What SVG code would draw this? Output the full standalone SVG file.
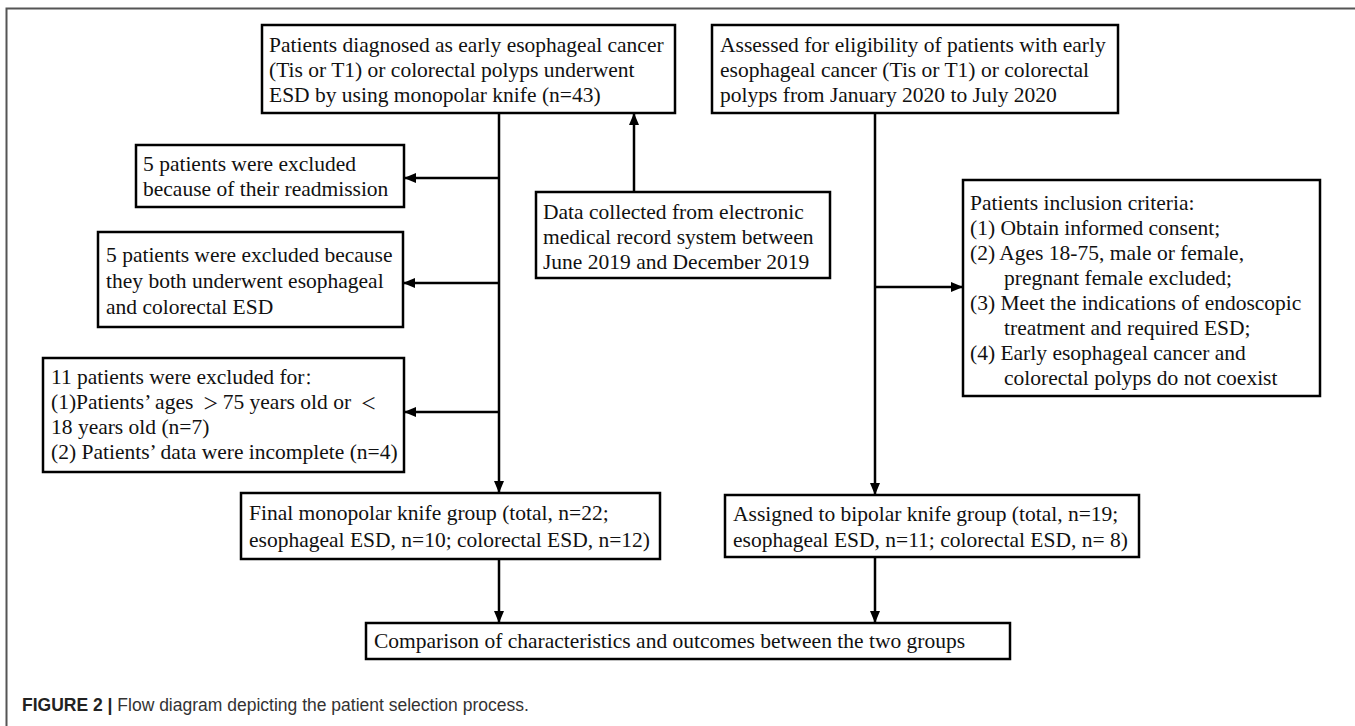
<svg xmlns="http://www.w3.org/2000/svg" width="1355" height="726" viewBox="0 0 1355 726">
<defs>
<marker id="ah" viewBox="0 0 12 10" refX="12" refY="5" markerWidth="12" markerHeight="10" markerUnits="userSpaceOnUse" orient="auto">
<path d="M0,0 L12,5 L0,10 Z" fill="#000"/>
</marker>
<style>
.box{fill:#fff;stroke:#000;stroke-width:2.5}
.t{font-family:"Liberation Serif","Times New Roman",serif;font-size:21.5px;fill:#111}
.cjk{font-family:"Noto Sans CJK SC",sans-serif;font-size:16px}
.ln{stroke:#000;stroke-width:2.5;fill:none;marker-end:url(#ah)}
.cap{font-family:"Liberation Sans",Arial,sans-serif;font-size:17.5px;fill:#333}
</style>
</defs>
<rect width="1355" height="726" fill="#fff"/>
<g id="frame">
<path d="M6.5,726 V8.5 H1355" fill="none" stroke="#555" stroke-width="2"/>
</g>
<g id="connectors">
<line class="ln" x1="499" y1="113" x2="499" y2="493"/>
<line class="ln" x1="499" y1="178" x2="404" y2="178"/>
<line class="ln" x1="499" y1="283" x2="403" y2="283"/>
<line class="ln" x1="499" y1="412" x2="404" y2="412"/>
<line class="ln" x1="634" y1="192" x2="634" y2="113"/>
<line class="ln" x1="875" y1="113" x2="875" y2="495"/>
<line class="ln" x1="875" y1="287" x2="963" y2="287"/>
<line class="ln" x1="499" y1="559" x2="499" y2="623"/>
<line class="ln" x1="875" y1="557" x2="875" y2="623"/>
</g>
<g id="nodeA">
<rect class="box" x="262" y="25" width="413" height="88"/>
<text class="t" x="269" y="52">Patients diagnosed as early esophageal cancer</text>
<text class="t" x="269" y="77">(Tis or T1) or colorectal polyps underwent</text>
<text class="t" x="269" y="102">ESD by using monopolar knife (n=43)</text>
</g>
<g id="nodeB">
<rect class="box" x="712" y="25" width="406" height="88"/>
<text class="t" x="720" y="52">Assessed for eligibility of patients with early</text>
<text class="t" x="720" y="77">esophageal cancer (Tis or T1) or colorectal</text>
<text class="t" x="720" y="102">polyps from January 2020 to July 2020</text>
</g>
<g id="nodeData">
<rect class="box" x="536" y="192" width="294" height="86"/>
<text class="t" x="543" y="219">Data collected from electronic</text>
<text class="t" x="543" y="244">medical record system between</text>
<text class="t" x="543" y="269">June 2019 and December 2019</text>
</g>
<g id="nodeEx1">
<rect class="box" x="136" y="145" width="268" height="62"/>
<text class="t" x="143" y="171">5 patients were excluded</text>
<text class="t" x="143" y="196">because of their readmission</text>
</g>
<g id="nodeEx2">
<rect class="box" x="98" y="232" width="305" height="95"/>
<text class="t" x="106" y="262">5 patients were excluded because</text>
<text class="t" x="106" y="288">they both underwent esophageal</text>
<text class="t" x="106" y="314">and colorectal ESD</text>
</g>
<g id="nodeEx3">
<rect class="box" x="43" y="358" width="361" height="114"/>
<text class="t" x="51" y="384">11 patients were excluded for<tspan class="cjk">：</tspan></text>
<text class="t" x="51" y="409">(1)Patients’ ages <tspan class="cjk" dx="4">＞</tspan><tspan dx="4">75 years old or </tspan><tspan class="cjk" dx="4">＜</tspan></text>
<text class="t" x="51" y="434">18 years old (n=7)</text>
<text class="t" x="51" y="459">(2) Patients’ data were incomplete (n=4)</text>
</g>
<g id="nodeCriteria">
<rect class="box" x="963" y="180" width="357" height="216"/>
<text class="t" x="970" y="210">Patients inclusion criteria:</text>
<text class="t" x="970" y="235">(1) Obtain informed consent;</text>
<text class="t" x="970" y="260">(2) Ages 18-75, male or female,</text>
<text class="t" x="1004" y="285">pregnant female excluded;</text>
<text class="t" x="970" y="310">(3) Meet the indications of endoscopic</text>
<text class="t" x="1004" y="335">treatment and required ESD;</text>
<text class="t" x="970" y="360">(4) Early esophageal cancer and</text>
<text class="t" x="1004" y="385">colorectal polyps do not coexist</text>
</g>
<g id="nodeMono">
<rect class="box" x="241" y="493" width="419" height="66"/>
<text class="t" x="249" y="520">Final monopolar knife group (total, n=22;</text>
<text class="t" x="249" y="547">esophageal ESD, n=10; colorectal ESD, n=12)</text>
</g>
<g id="nodeBi">
<rect class="box" x="725" y="495" width="414" height="62"/>
<text class="t" x="733" y="521">Assigned to bipolar knife group (total, n=19;</text>
<text class="t" x="733" y="547">esophageal ESD, n=11; colorectal ESD, n= 8)</text>
</g>
<g id="nodeCompare">
<rect class="box" x="366" y="623" width="644" height="36"/>
<text class="t" x="374" y="648">Comparison of characteristics and outcomes between the two groups</text>
</g>
<g id="caption">
<text class="cap" x="22" y="711"><tspan font-weight="bold" fill="#222">FIGURE 2 | </tspan>Flow diagram depicting the patient selection process.</text>
</g>
</svg>
